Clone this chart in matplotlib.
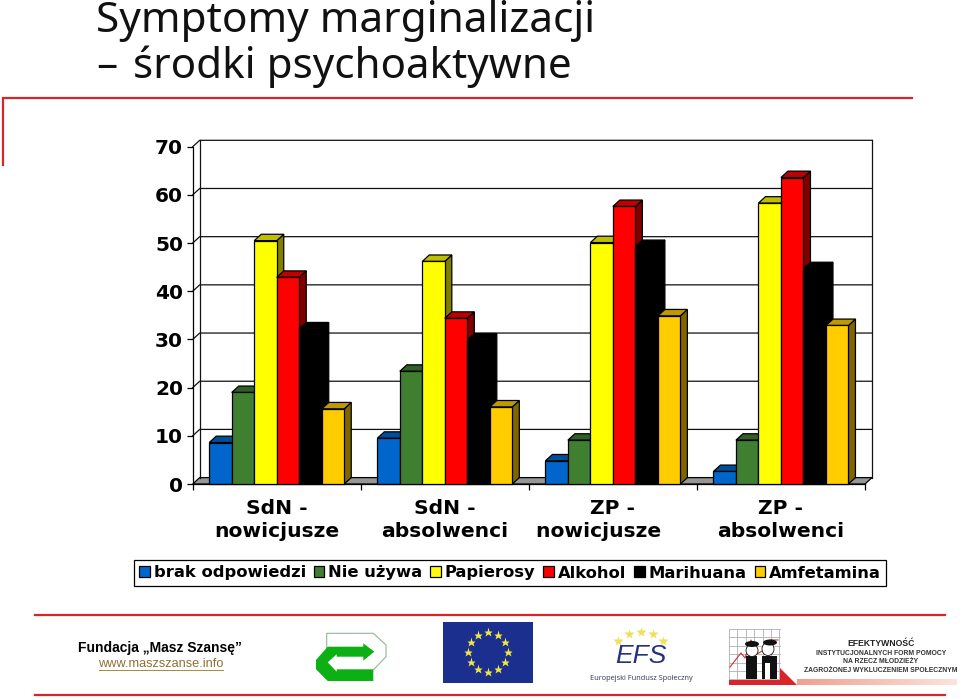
import numpy as np
import matplotlib
matplotlib.use("Agg")
import matplotlib.pyplot as plt
from matplotlib.patches import Polygon, Rectangle, Ellipse
from matplotlib.colors import LinearSegmentedColormap, to_rgb

# w oryginale druga linia trzeciej etykiety jest przesunieta w lewo
categories = ["SdN -\nnowicjusze", "SdN -\nabsolwenci", "ZP -\nnowicjusze    ", "ZP -\nabsolwenci"]
series_names = ["brak odpowiedzi", "Nie używa", "Papierosy", "Alkohol", "Marihuana", "Amfetamina"]
brak = [8.6, 9.5, 4.8, 2.6]
nie_uzywa = [19.0, 23.4, 9.1, 9.1]
papierosy = [50.5, 46.2, 50.1, 58.3]
alkohol = [42.9, 34.4, 57.6, 63.6]
marihuana = [32.2, 29.9, 49.3, 44.7]
amfetamina = [15.6, 16.0, 34.9, 32.9]
series = [brak, nie_uzywa, papierosy, alkohol, marihuana, amfetamina]
colors = ["#0066CC", "#3F8030", "#FFFF00", "#FF0000", "#000000", "#FFCC00"]
y_ticks = [0, 10, 20, 30, 40, 50, 60, 70]

W, H = 960, 698
RED = "#D8252A"


def shade(col, f):
    return tuple(c * f for c in to_rgb(col))


fig = plt.figure(figsize=(W / 100, H / 100), dpi=100)

# warstwa dekoracji, w pikselach
bg = fig.add_axes([0, 0, 1, 1], zorder=0)
bg.set_xlim(0, W)
bg.set_ylim(H, 0)
bg.axis("off")

bg.text(96, 32, "Symptomy marginalizacji", fontsize=30.5, family="Noto Sans", va="baseline", color="#111111")
bg.text(96, 78, "–", fontsize=30.5, family="Noto Sans", va="baseline", color="#111111")
bg.text(133, 78, "środki psychoaktywne", fontsize=30.3, family="Noto Sans", va="baseline", color="#111111")

bg.plot([2.5, 2.5, 912], [165, 98, 98], color=RED, lw=1.6, solid_joinstyle="miter")
bg.plot([35, 945], [614.5, 614.5], color=RED, lw=1.6)
bg.plot([35, 945], [694.5, 694.5], color=RED, lw=1.6)

# stopka
bg.text(160, 648, "Fundacja „Masz Szansę”", fontsize=10, family="Liberation Sans", weight="bold", ha="center", va="center")
bg.text(160.5, 664, "www.maszszanse.info", fontsize=9.15, family="Liberation Sans", color="#8F7130", ha="center", va="center")
bg.plot([99, 223], [669.5, 669.5], color="#A88A40", lw=0.7)

# logo ze strzalkami
bg.add_patch(Polygon([(326.7, 650), (326.7, 633.3), (373.3, 633.3), (386, 645), (386, 656.7), (373.3, 670)],
                     closed=False, fc="white", ec="#8FB98F", lw=0.8))
bg.add_patch(Polygon([(316, 660), (327.7, 646.7), (363.3, 646.7), (363.3, 643.3), (374.3, 651.7), (363.3, 660.7),
                      (363.3, 656.7), (336.7, 656.7), (336.7, 654.3), (327.7, 662.3), (336.7, 671.7), (336.7, 669.3),
                      (373.3, 669.3), (373.3, 681), (327.7, 681), (316, 669.3)], fc="#0CB014", ec="none"))

# flaga UE
bg.add_patch(Rectangle((443, 622), 90, 61, fc="#1B2F8E", ec="none"))
ang = np.deg2rad(np.arange(0, 360, 30))
bg.plot(488 + 20 * np.cos(ang), 652 + 20 * np.sin(ang), ls="none", marker="*", ms=6.5, color="#F5E640", mec="none")

# EFS
bg.plot([618, 629, 640.7, 652.7, 663], [640.7, 634, 632, 634, 640.7], ls="none", marker="*", ms=7, color="#EBE25A", mec="none")
bg.text(641, 656, "EFS", fontsize=19, family="Liberation Sans", style="italic", color="#27317E", ha="center", va="center")
bg.text(641, 679, "Europejski Fundusz Społeczny", fontsize=5.3, family="Open Sans", color="#2F3350", ha="center", va="center")

# logo efektywnosc
for gx in np.arange(729, 781, 8.4):
    bg.plot([gx, gx], [629, 680], color="#B0B0B0", lw=0.6, zorder=1)
for gy in np.arange(629, 681, 8.4):
    bg.plot([729, 780], [gy, gy], color="#B0B0B0", lw=0.6, zorder=1)
bg.plot([730, 741, 745, 751, 757, 764, 770, 778], [667, 653, 658, 640, 654, 650, 640, 640], color="#D03030", lw=0.8, zorder=2)
bg.add_patch(Rectangle((746, 656), 11, 23, fc="#111111", ec="none", zorder=3))
bg.add_patch(Rectangle((762, 656), 15, 23, fc="#111111", ec="none", zorder=3))
bg.add_patch(Rectangle((765, 663), 4.5, 16, fc="white", ec="none", zorder=3))
bg.add_patch(Ellipse((752, 650.5), 12, 12, fc="white", ec="#111111", lw=0.6, zorder=4))
bg.add_patch(Ellipse((768, 649), 12, 13, fc="white", ec="#111111", lw=0.6, zorder=4))
bg.add_patch(Ellipse((752, 644), 14, 6, fc="#111111", ec="none", zorder=5))
bg.add_patch(Ellipse((770, 642.5), 14, 6, fc="#111111", ec="none", zorder=5))
bg.add_patch(Polygon([(729, 685), (729, 680), (780, 680), (780, 668), (797, 685)], fc="#D8252A", ec="none", zorder=5))
fade = LinearSegmentedColormap.from_list("fade", ["#F0A090", "#FBE3DC"])
bg.imshow(np.linspace(0, 1, 64).reshape(1, -1), cmap=fade, extent=(797, 957, 685, 679), aspect="auto", zorder=1)
bg.set_xlim(0, W)
bg.set_ylim(H, 0)

bg.text(881, 644, "EFEKTYWNOŚĆ", fontsize=6.2, family="Liberation Sans", weight="bold", ha="center", va="center", color="#222222")
bg.text(881, 653.5, "INSTYTUCJONALNYCH FORM POMOCY", fontsize=4.9, family="Liberation Sans", weight="bold", ha="center", va="center", color="#333333")
bg.text(881, 661.5, "NA RZECZ MŁODZIEŻY", fontsize=4.9, family="Liberation Sans", weight="bold", ha="center", va="center", color="#333333")
bg.text(881, 670, "ZAGROŻONEJ WYKLUCZENIEM SPOŁECZNYM", fontsize=4.9, family="Liberation Sans", weight="bold", ha="center", va="center", color="#333333")

# wykres
x0_px, x1_px, y0_px, y70_px = 192.7, 865, 484, 146.7
ax = fig.add_axes([x0_px / W, 1 - y0_px / H, (x1_px - x0_px) / W, (y0_px - y70_px) / H], zorder=1)
ax.patch.set_visible(False)
ax.set_xlim(0, 4)
ax.set_ylim(0, 70)

# glebokosc 3D w jednostkach danych
dx = 7 / ((x1_px - x0_px) / 4)
dy = 6.4 / ((y0_px - y70_px) / 70)

# sciany
ax.add_patch(Polygon([(0, 0), (dx, dy), (4 + dx, dy), (4, 0)], fc="#969696", ec="black", lw=0.9, clip_on=False, zorder=1))
for v in y_ticks[1:]:
    ax.plot([0, dx, 4 + dx], [v, v + dy, v + dy], color="#111111", lw=0.9, clip_on=False, zorder=1)
ax.plot([dx, dx], [dy, 70 + dy], color="#111111", lw=0.9, clip_on=False, zorder=1)
ax.plot([4 + dx, 4 + dx], [dy, 70 + dy], color="#111111", lw=0.9, clip_on=False, zorder=1)

bar_w = 22.5 / ((x1_px - x0_px) / 4)
n = len(series)
for g in range(len(categories)):
    start = g + 0.5 - n * bar_w / 2
    for s, vals in enumerate(series):
        col = colors[s]
        v = vals[g]
        xl = start + s * bar_w
        xr = xl + bar_w
        z = 2 + s
        ax.add_patch(Polygon([(xr, 0), (xr + dx, dy), (xr + dx, v + dy), (xr, v)], fc=shade(col, 0.5), ec="black", lw=0.9, clip_on=False, zorder=z))
        ax.add_patch(Polygon([(xl, v), (xl + dx, v + dy), (xr + dx, v + dy), (xr, v)], fc=shade(col, 0.75), ec="black", lw=0.9, clip_on=False, zorder=z))
        ax.bar(xl, v, width=bar_w, align="edge", color=col, edgecolor="black", linewidth=0.9, zorder=z, clip_on=False,
               label=series_names[s] if g == 0 else None)

for side in ["top", "right"]:
    ax.spines[side].set_visible(False)
ax.spines["left"].set_linewidth(0.9)
ax.spines["bottom"].set_linewidth(0.9)

ax.set_yticks(y_ticks)
ax.tick_params(axis="y", length=4, width=0.9, pad=3)
for lab in ax.get_yticklabels():
    lab.set_fontsize(14.5)
    lab.set_fontweight("bold")

ax.set_xticks([0, 1, 2, 3, 4])
ax.set_xticklabels([])
ax.tick_params(axis="x", which="major", length=4, width=0.9)
ax.set_xticks([0.5, 1.5, 2.5, 3.5], minor=True)
ax.set_xticklabels(categories, minor=True, fontsize=14.6, fontweight="bold", linespacing=1.32)
ax.tick_params(axis="x", which="minor", length=0, pad=10.5)

leg = fig.legend(ncol=6, loc="center", bbox_to_anchor=((133 + 887) / 2 / W, 1 - 573 / H),
                 prop={"family": "DejaVu Sans", "weight": "bold", "size": 11.8},
                 frameon=True, fancybox=False, edgecolor="black", framealpha=1,
                 handlelength=0.65, handleheight=0.65, handletextpad=0.25, columnspacing=0.47,
                 borderpad=0.32, borderaxespad=0)
leg.get_frame().set_linewidth(0.9)

fig.savefig("out.png", dpi=100)
